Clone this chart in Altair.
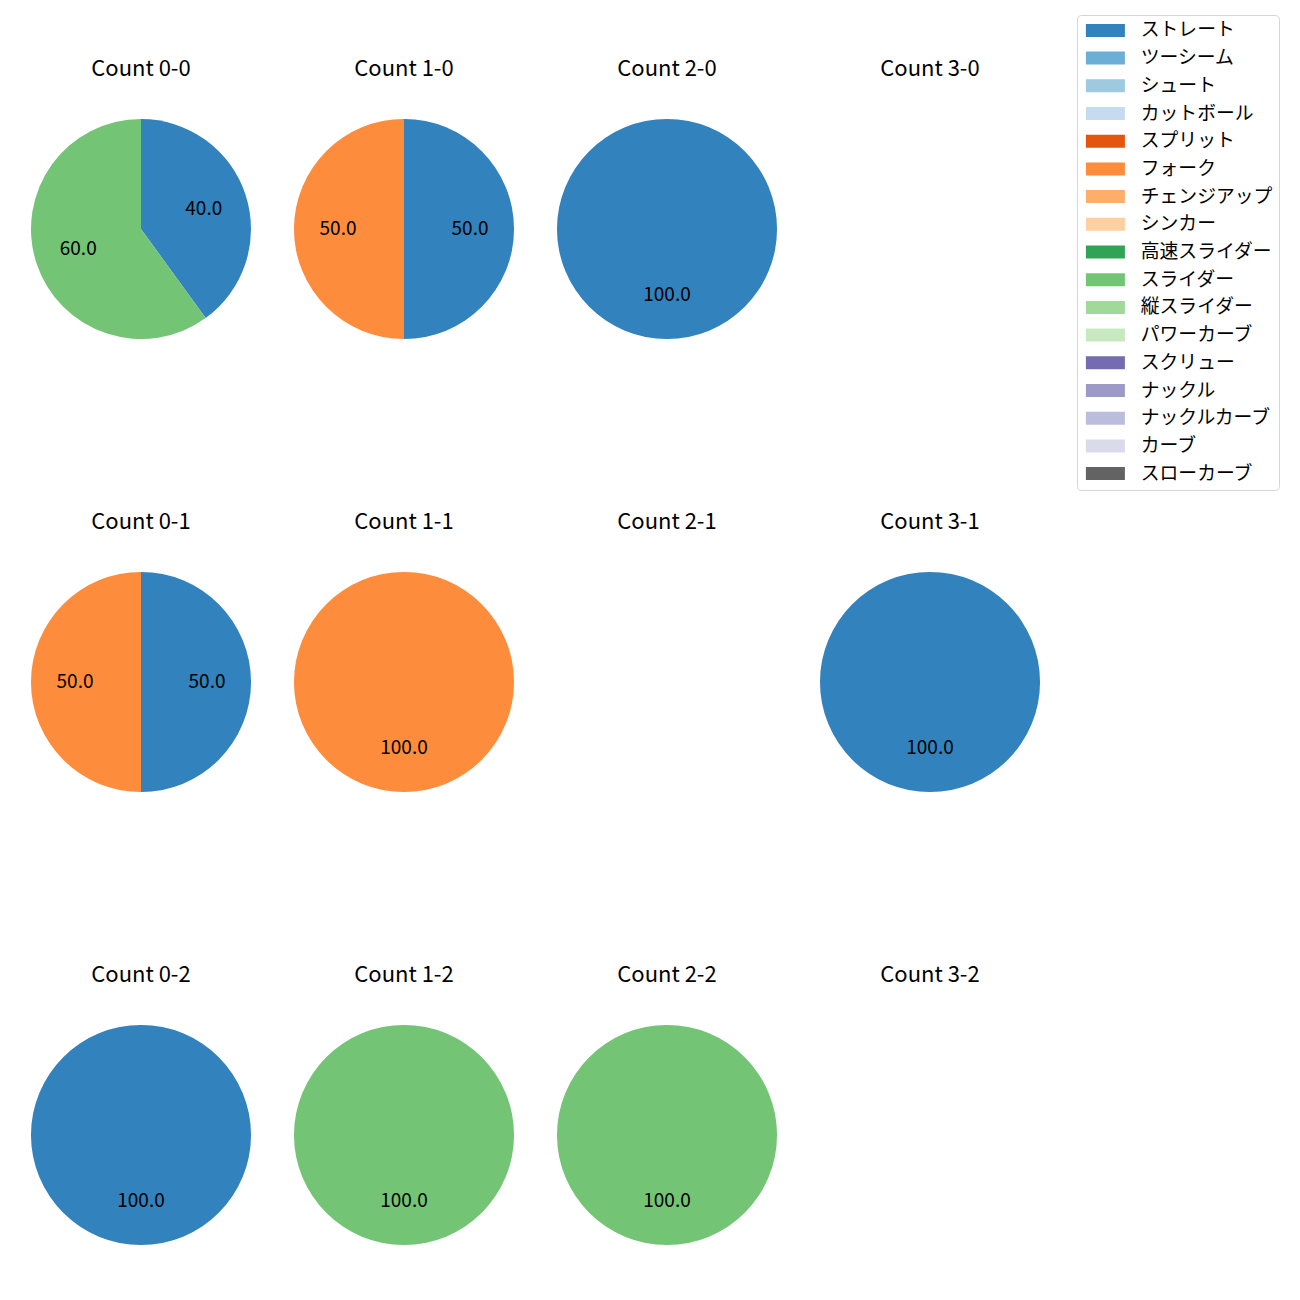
import altair as alt
import pandas as pd

pitch_types = ["ストレート", "ツーシーム", "シュート", "カットボール", "スプリット", "フォーク",
               "チェンジアップ", "シンカー", "高速スライダー", "スライダー", "縦スライダー",
               "パワーカーブ", "スクリュー", "ナックル", "ナックルカーブ", "カーブ", "スローカーブ"]
pitch_colors = ["#3182bd", "#6baed6", "#9ecae1", "#c6dbef", "#e6550d", "#fd8d3c",
                "#fdae6b", "#fdd0a2", "#31a354", "#74c476", "#a1d99b", "#c7e9c0",
                "#756bb1", "#9e9ac8", "#bcbddc", "#dadaeb", "#636363"]

count_labels = ["0-0", "1-0", "2-0", "3-0",
                "0-1", "1-1", "2-1", "3-1",
                "0-2", "1-2", "2-2", "3-2"]
count_pitches = [["ストレート", "スライダー"], ["ストレート", "フォーク"], ["ストレート"], [],
                 ["ストレート", "フォーク"], ["フォーク"], [], ["ストレート"],
                 ["ストレート"], ["スライダー"], ["スライダー"], []]
count_pcts = [[40.0, 60.0], [50.0, 50.0], [100.0], [],
              [50.0, 50.0], [100.0], [], [100.0],
              [100.0], [100.0], [100.0], []]

rows = []
for c, ps, vs in zip(count_labels, count_pitches, count_pcts):
    for p, v in zip(ps, vs):
        rows.append({"cnt": c, "pitch": p, "pct": v, "idx": pitch_types.index(p)})
df = pd.DataFrame(rows)

FONT = "Noto Sans CJK JP"

color_enc = alt.Color(
    "pitch:N",
    scale=alt.Scale(domain=pitch_types, range=pitch_colors),
    legend=alt.Legend(
        title=None,
        orient="none",
        legendX=1046,
        legendY=-104,
        symbolType="M-1,-1L5,-1L5,1L-1,1Z",
        symbolSize=169,
        symbolStrokeWidth=0,
        labelOffset=39,
        labelFontSize=18.8,
        labelFont=FONT,
        labelColor="black",
        rowPadding=7.7,
        padding=6,
        strokeColor="#d5d5d5",
        cornerRadius=4,
        fillColor="white",
    ),
)

panels = []
for c in count_labels:
    base = alt.Chart(df).transform_filter(alt.datum.cnt == c)
    arc = base.mark_arc(radius=110).encode(
        theta=alt.Theta("pct:Q", stack=True),
        color=color_enc,
        order=alt.Order("idx:Q"),
    )
    txt = base.mark_text(radius=66, fontSize=19, font=FONT, color="black").encode(
        theta=alt.Theta("pct:Q", stack=True),
        order=alt.Order("idx:Q"),
        text=alt.Text("pct:Q", format=".1f"),
    )
    panel = alt.layer(arc, txt).properties(
        width=220,
        height=220,
        title=alt.TitleParams(f"Count {c}", fontSize=22, font=FONT, fontWeight="normal",
                              color="black", anchor="middle", offset=38),
    )
    panels.append(panel)

chart = alt.concat(*panels, columns=4, spacing={"row": 172, "column": 43}).properties(
    padding={"left": 23, "top": 6, "right": 5, "bottom": 5}
).configure_view(strokeWidth=0).configure(font=FONT)

chart.save("out.html", embed_options={"renderer": "svg", "actions": False})
